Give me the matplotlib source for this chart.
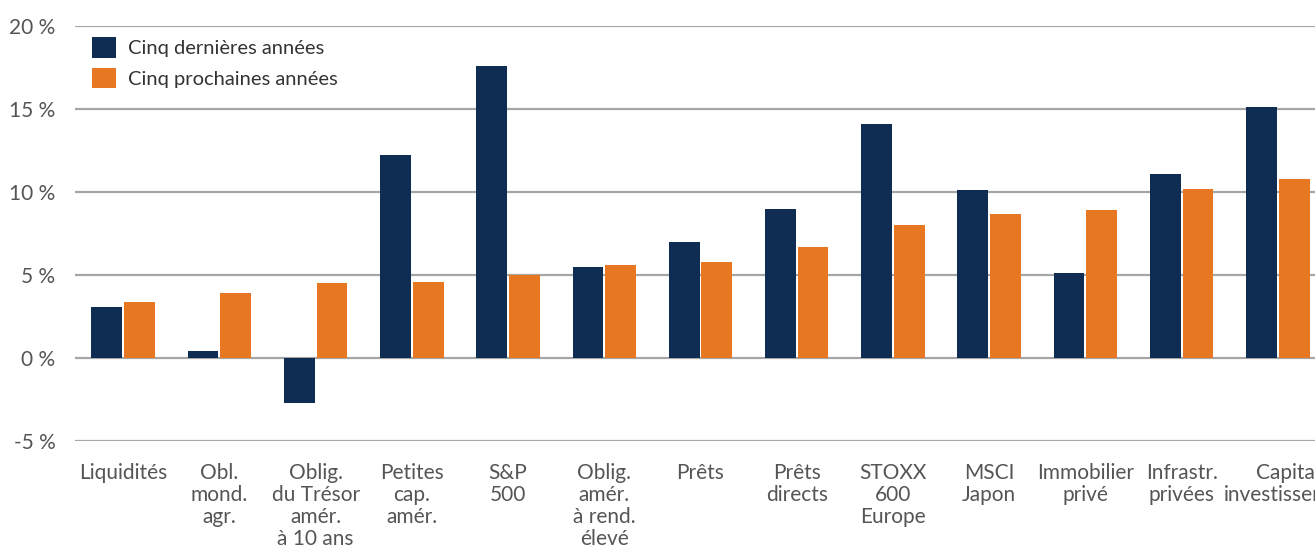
import matplotlib
matplotlib.use("Agg")
import matplotlib.pyplot as plt
import matplotlib.transforms as mtransforms
import numpy as np

categories = ["Liquidités", "Obl.\nmond.\nagr.", "Oblig.\ndu Trésor\namér.\nà 10 ans",
              "Petites\ncap.\namér.", "S&P\n500", "Oblig.\namér.\nà rend.\nélevé",
              "Prêts", "Prêts\ndirects", "STOXX\n600\nEurope", "MSCI\nJapon",
              "Immobilier\nprivé", "Infrastr.\nprivées", "Capital-\ninvestissement"]
past_five = [3.1, 0.4, -2.7, 12.2, 17.6, 5.5, 7.0, 9.0, 14.1, 10.1, 5.1, 11.1, 15.1]
next_five = [3.4, 3.9, 4.5, 4.6, 5.0, 5.6, 5.8, 6.7, 8.0, 8.7, 8.9, 10.2, 10.8]
series_names = ["Cinq dernières années", "Cinq prochaines années"]
yticks = [-5, 0, 5, 10, 15, 20]
ytick_labels = ["-5 %", "0 %", "5 %", "10 %", "15 %", "20 %"]

NAVY = "#0F2D52"
ORANGE = "#E87722"
TEXT = "#555555"
GRID = "#A6A6A6"

plt.rcParams['font.family'] = ['Lato', 'DejaVu Sans']

W, H = 1315, 550
fig = plt.figure(figsize=(W / 100, H / 100), dpi=100)
left = 75 / W
right_px = 1326
ax = fig.add_axes([left, (H - 441) / H, (right_px - 75) / W, (441 - 26) / H])

x = np.arange(len(categories))
bw = 0.32
off = 0.17
ax.bar(x - off, past_five, width=bw, color=NAVY, label=series_names[0], zorder=3)
ax.bar(x + off, next_five, width=bw, color=ORANGE, label=series_names[1], zorder=3)

ax.set_xlim(-0.5, len(categories) - 0.5)
ax.set_ylim(-5, 20)
ax.set_yticks(yticks)
ax.set_yticklabels(ytick_labels)
for y in yticks:
    ax.axhline(y, color=GRID, lw=1.6, zorder=1)
ax.set_xticks(x)
ax.set_xticklabels(categories, linespacing=1.12)
ax.tick_params(axis='x', length=0, pad=16, labelsize=15, colors=TEXT)
ax.tick_params(axis='y', length=0, pad=14, labelsize=15, colors=TEXT)
xlabels = ax.get_xticklabels()
for lab in xlabels:
    lab.set_verticalalignment('top')
shift = mtransforms.ScaledTranslation(14 / 100, 0, fig.dpi_scale_trans)
xlabels[-1].set_transform(xlabels[-1].get_transform() + shift)
for s in ax.spines.values():
    s.set_visible(False)

leg = ax.legend(loc='upper left', bbox_to_anchor=(92 / W, (H - 37) / H),
                bbox_transform=fig.transFigure, frameon=False, fontsize=14.5,
                handlelength=1.2, handleheight=1.2, handletextpad=0.6,
                labelspacing=0.5, borderaxespad=0, borderpad=0)
for t in leg.get_texts():
    t.set_color("#333333")

fig.savefig("out.png", dpi=100)
